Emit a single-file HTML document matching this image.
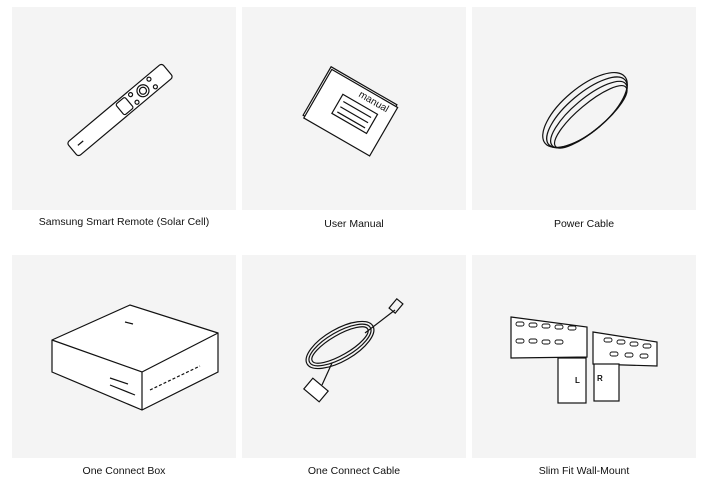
<!DOCTYPE html>
<html><head><style>
body{margin:0;width:708px;height:490px;background:#fff;position:relative;overflow:hidden;font-family:"Liberation Sans",sans-serif}
.p{position:absolute;width:224px;height:203px;background:#f4f4f4}
.l{position:absolute;width:224px;text-align:center;font-size:10.5px;color:#111}
svg{position:absolute;left:0;top:0}
</style></head><body>
<div class="p" style="left:12px;top:7px"></div>
<div class="p" style="left:242px;top:7px"></div>
<div class="p" style="left:472px;top:7px"></div>
<div class="p" style="left:12px;top:255px"></div>
<div class="p" style="left:242px;top:255px"></div>
<div class="p" style="left:472px;top:255px"></div>
<div class="l" style="left:12px;top:216px">Samsung Smart Remote (Solar Cell)</div>
<div class="l" style="left:242px;top:218px">User Manual</div>
<div class="l" style="left:472px;top:218px">Power Cable</div>
<div class="l" style="left:12px;top:465px">One Connect Box</div>
<div class="l" style="left:242px;top:465px">One Connect Cable</div>
<div class="l" style="left:472px;top:465px">Slim Fit Wall-Mount</div>
<svg width="708" height="490" fill="none" stroke="#111" stroke-width="1.2">
<!-- remote -->
<g transform="translate(120,110) rotate(-40)">
<rect x="-62" y="-9" width="124" height="18" rx="3" fill="#fff"/>
<circle cx="30" cy="0" r="6"/><circle cx="30" cy="0" r="3.5"/>
<circle cx="18" cy="-5" r="2"/><circle cx="18" cy="5" r="2"/><circle cx="42" cy="-5" r="2"/><circle cx="42" cy="5" r="2"/>
<rect x="0" y="-7" width="12" height="14" rx="2"/>
<line x1="-55" y1="0" x2="-48" y2="0"/>
</g>
<!-- manual -->
<g transform="translate(350,110) rotate(30)">
<rect x="-38" y="-28" width="76" height="56" fill="#fff"/>
<rect x="-36" y="-26" width="76" height="56" fill="#fff"/>
<rect x="-14" y="-10" width="40" height="22"/>
<line x1="-10" y1="-4" x2="22" y2="-4"/><line x1="-10" y1="2" x2="22" y2="2"/><line x1="-10" y1="8" x2="22" y2="8"/>
<text x="0" y="-16" font-size="10" fill="#111" stroke="none" font-family="Liberation Sans">manual</text>
</g>
<!-- power cable -->
<g transform="translate(585,110) rotate(-40)">
<ellipse rx="52" ry="22"/><ellipse rx="50" ry="19" cy="3"/><ellipse rx="48" ry="16" cy="6"/><ellipse rx="46" ry="13" cy="9"/>
</g>
<!-- box -->
<path d="M52 340 L130 305 L218 333 L218 372 L142 410 L52 372 Z" fill="#fff"/>
<path d="M52 340 L142 372 L218 333 M142 372 L142 410"/>
<line x1="125" y1="322" x2="133" y2="324"/>
<path d="M150 390 L200 366" stroke-dasharray="3 2"/>
<path d="M110 385 L135 395 M110 378 L128 384"/>
<!-- one connect cable -->
<g transform="translate(340,345)">
<ellipse rx="38" ry="16" transform="rotate(-30)"/><ellipse rx="35" ry="13" transform="rotate(-30)"/><ellipse rx="32" ry="10" transform="rotate(-30)"/>
<path d="M25 -12 L55 -35" /><rect x="52" y="-45" width="8" height="12" transform="rotate(40 56 -39)"/>
<path d="M-8 18 L-18 40"/><rect x="-34" y="38" width="20" height="14" transform="rotate(40 -24 45)" fill="#fff"/>
</g>
<!-- wall mount -->
<path d="M511 317 L587 327 L587 357 L511 358 Z" fill="#fff"/>
<path d="M593 332 L657 342 L657 366 L593 364 Z" fill="#fff"/>
<rect x="558" y="358" width="28" height="45" fill="#fff"/>
<rect x="594" y="364" width="25" height="37" fill="#fff"/>
<g stroke-width="0.9">
<rect x="516" y="322" width="8" height="4" rx="2"/><rect x="529" y="323" width="8" height="4" rx="2"/><rect x="542" y="324" width="8" height="4" rx="2"/><rect x="555" y="325" width="8" height="4" rx="2"/><rect x="568" y="326" width="8" height="4" rx="2"/>
<rect x="516" y="339" width="8" height="4" rx="2"/><rect x="529" y="339" width="8" height="4" rx="2"/><rect x="542" y="340" width="8" height="4" rx="2"/><rect x="555" y="340" width="8" height="4" rx="2"/>
<rect x="604" y="338" width="8" height="4" rx="2"/><rect x="617" y="340" width="8" height="4" rx="2"/><rect x="630" y="342" width="8" height="4" rx="2"/><rect x="643" y="344" width="8" height="4" rx="2"/>
<rect x="610" y="352" width="8" height="4" rx="2"/><rect x="625" y="353" width="8" height="4" rx="2"/><rect x="640" y="354" width="8" height="4" rx="2"/>
</g>
<text x="575" y="383" font-size="8" font-weight="bold" fill="#111" stroke="none">L</text>
<text x="597" y="381" font-size="8" font-weight="bold" fill="#111" stroke="none">R</text>
</svg>
</body></html>
